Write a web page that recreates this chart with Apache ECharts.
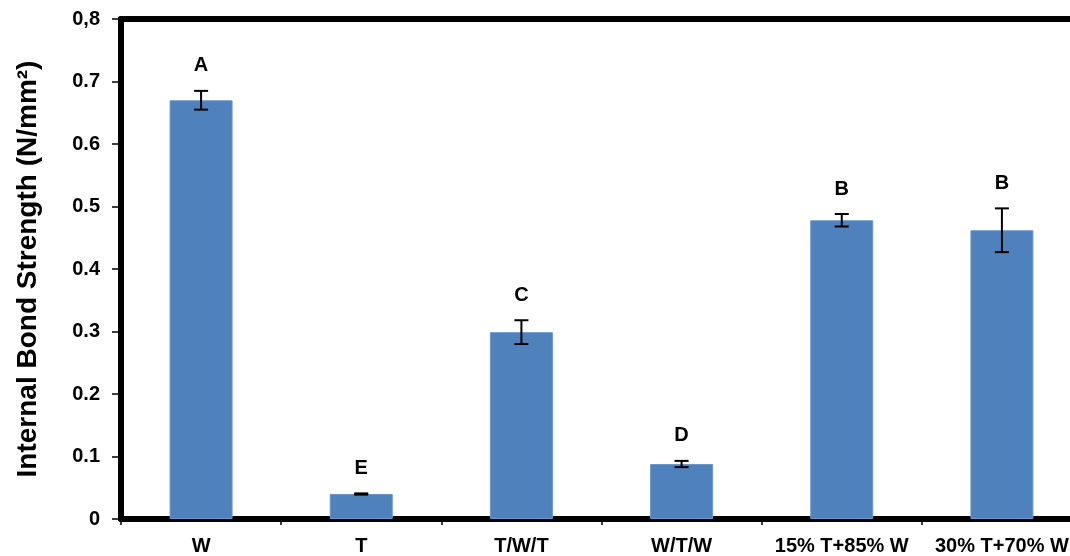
<!DOCTYPE html>
<html>
<head>
<meta charset="utf-8">
<script src="https://cdn.jsdelivr.net/npm/echarts@6/dist/echarts.min.js"></script>
<style>html,body{margin:0;padding:0;background:#fff;overflow:hidden;width:1070px;height:556px}#c{width:1082px;height:556px}</style>
</head>
<body>
<div id="c"></div>
<script>
const categories = ['W', 'T', 'T/W/T', 'W/T/W', '15% T+85% W', '30% T+70% W'];
const means = [0.670, 0.040, 0.299, 0.088, 0.478, 0.462];
const errors = [0.015, 0.001, 0.019, 0.005, 0.010, 0.035];
const letters = ['A', 'E', 'C', 'D', 'B', 'B'];
const yTickLabels = ['0', '0.1', '0.2', '0.3', '0.4', '0.5', '0.6', '0.7', '0,8'];

const FONT = 'Liberation Sans, Arial, sans-serif';
const chart = echarts.init(document.getElementById('c'), null, {renderer: 'canvas'});

const errData = categories.map((c, i) => [i, means[i] - errors[i], means[i] + errors[i]]);
const letterData = categories.map((c, i) => [i, means[i] + errors[i], letters[i]]);

chart.setOption({
  animation: false,
  backgroundColor: '#fff',
  grid: {left: 121, top: 19, bottom: 36, right: 0, containLabel: false},
  xAxis: [{
    type: 'category',
    data: categories,
    position: 'bottom',
    axisLine: {lineStyle: {color: '#000', width: 6}},
    axisTick: {show: true, interval: 0, length: 6, lineStyle: {color: '#000', width: 1.5}},
    axisLabel: {interval: 0, color: '#000', fontFamily: FONT, fontWeight: 'bold', fontSize: 20, margin: 17},
    splitLine: {show: false}
  }, {
    type: 'category',
    data: categories,
    position: 'top',
    axisLine: {lineStyle: {color: '#000', width: 6}},
    axisTick: {show: false},
    axisLabel: {show: false}
  }],
  yAxis: {
    type: 'value',
    min: 0, max: 0.8, interval: 0.1,
    name: 'Internal Bond Strength (N/mm²)',
    nameLocation: 'middle',
    nameGap: 79,
    nameTextStyle: {color: '#000', fontFamily: FONT, fontWeight: 'bold', fontSize: 28},
    axisLine: {show: true, lineStyle: {color: '#000', width: 6}},
    axisTick: {show: true, length: 9, lineStyle: {color: '#000', width: 1.5}},
    axisLabel: {
      color: '#000', fontFamily: FONT, fontWeight: 'bold', fontSize: 20, margin: 21,
      formatter: v => yTickLabels[Math.round(v * 10)]
    },
    splitLine: {show: false}
  },
  series: [{
    type: 'bar',
    data: means,
    barWidth: 63,
    itemStyle: {color: '#4f81bd', borderColor: '#6b97cc', borderWidth: 1}
  }, {
    type: 'custom',
    data: errData,
    z: 5,
    renderItem: (params, api) => {
      const i = api.value(0);
      const lo = api.coord([i, api.value(1)]);
      const hi = api.coord([i, api.value(2)]);
      const hw = 7;
      const st = {stroke: '#000', lineWidth: 2};
      return {type: 'group', children: [
        {type: 'line', shape: {x1: hi[0], y1: hi[1], x2: lo[0], y2: lo[1]}, style: st},
        {type: 'line', shape: {x1: hi[0] - hw, y1: hi[1], x2: hi[0] + hw, y2: hi[1]}, style: st},
        {type: 'line', shape: {x1: lo[0] - hw, y1: lo[1], x2: lo[0] + hw, y2: lo[1]}, style: st}
      ]};
    }
  }, {
    type: 'custom',
    data: letterData,
    z: 6,
    clip: false,
    renderItem: (params, api) => {
      const i = api.value(0);
      const p = api.coord([i, api.value(1)]);
      return {type: 'text', x: p[0], y: p[1] - 25, style: {
        text: letterData[params.dataIndex][2], fill: '#000', font: 'bold 20px ' + FONT,
        align: 'center', verticalAlign: 'middle'
      }};
    }
  }]
});
</script>
</body>
</html>
